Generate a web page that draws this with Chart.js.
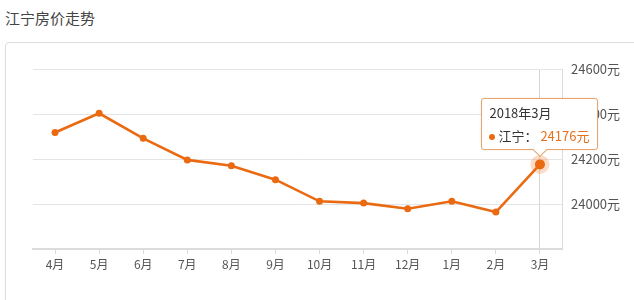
<!DOCTYPE html>
<html>
<head>
<meta charset="utf-8">
<script src="https://cdn.jsdelivr.net/npm/chart.js@4/dist/chart.umd.min.js"></script>
<style>
  body { margin: 0; width: 634px; height: 300px; background: #fff; overflow: hidden; position: relative;
         font-family: "Noto Sans CJK SC", "Noto Sans", sans-serif; }
  .title { position: absolute; left: 5px; top: 7px; font-size: 15px; color: #444; }
  .panel { position: absolute; left: 5px; top: 42px; width: 640px; height: 280px;
           border: 1px solid #ddd; border-radius: 4px; }
  #wrap { position: absolute; left: 0; top: 42px; width: 634px; height: 258px; }
  #tip { position: absolute; display: none; background: #fff; border: 1px solid #e8a36a;
         border-radius: 3px; padding: 5px 8px 3px 7px; font-size: 13px; color: #333; white-space: nowrap;
         box-shadow: 0 0 3px rgba(0,0,0,0.08); }
  #tip .t { line-height: 18px; }
  #tip .b { line-height: 20px; margin-top: 4px; }
  #tip .dot { display: inline-block; width: 6px; height: 6px; border-radius: 3px; background: #ea6a12;
              vertical-align: middle; margin: -2px 3px 0 0; }
  #tip .v { color: #e8701c; }
  #tip:after { content: ""; position: absolute; left: 50%; bottom: -6px; margin-left: -5px; width: 9px; height: 9px;
               background: #fff; border-right: 1px solid #e8a36a; border-bottom: 1px solid #e8a36a;
               transform: rotate(45deg); }
</style>
</head>
<body>
<div class="title">江宁房价走势</div>
<div class="panel"></div>
<div id="wrap"><canvas id="c"></canvas></div>
<div id="tip"></div>
<script>
var seriesName = "江宁";
var months = ["4月", "5月", "6月", "7月", "8月", "9月", "10月", "11月", "12月", "1月", "2月", "3月"];
var years = ["2017", "2017", "2017", "2017", "2017", "2017", "2017", "2017", "2017", "2018", "2018", "2018"];
var prices = [24318, 24403, 24292, 24196, 24170, 24108, 24012, 24004, 23979, 24012, 23964, 24176];
var yTicks = [23800, 24000, 24200, 24400, 24600];
var activeIndex = 11;

var orange = "#ea6a12";

var halo = {
    id: "halo",
    beforeDatasetsDraw: function (chart) {
        var act = chart.getActiveElements();
        if (!act.length) return;
        var el = act[0].element, ctx = chart.ctx;
        ctx.save();
        ctx.fillStyle = "rgba(244,140,70,0.3)";
        ctx.beginPath();
        ctx.arc(el.x, el.y, 9.5, 0, Math.PI * 2);
        ctx.fill();
        ctx.restore();
    }
};

function externalTip(context) {
    var tip = document.getElementById("tip");
    var model = context.tooltip;
    if (model.opacity === 0) { tip.style.display = "none"; return; }
    var i = model.dataPoints[0].dataIndex;
    tip.innerHTML = '<div class="t">' + years[i] + "年" + months[i] + '</div>' +
        '<div class="b"><span class="dot"></span>' + seriesName + '：&nbsp;<span class="v">' + prices[i] + '元</span></div>';
    tip.style.display = "block";
    var w = tip.offsetWidth, h = tip.offsetHeight;
    var canvasTop = 42;
    tip.style.left = (model.caretX - w / 2) + "px";
    tip.style.top = (canvasTop + model.caretY - 14 - h) + "px";
}

var chart = new Chart(document.getElementById("c").getContext("2d"), {
    type: "line",
    data: {
        labels: months,
        datasets: [{
            label: seriesName,
            data: prices,
            borderColor: orange,
            backgroundColor: orange,
            borderWidth: 2.6,
            pointRadius: 3.5,
            pointBackgroundColor: orange,
            pointBorderWidth: 0,
            pointHoverRadius: 5,
            pointHoverBorderWidth: 0,
            pointHoverBackgroundColor: orange,
            tension: 0
        }]
    },
    plugins: [halo],
    options: {
        responsive: true,
        maintainAspectRatio: false,
        animation: false,
        events: [],
        layout: { padding: { left: 33, top: 27, right: 0, bottom: 0 } },
        plugins: {
            legend: { display: false },
            tooltip: { enabled: false, external: externalTip, mode: "index", intersect: false }
        },
        scales: {
            x: {
                offset: true,
                afterFit: function (s) { s.height = 51; },
                grid: {
                    offset: false,
                    drawOnChartArea: true,
                    color: function (c) { return c.index === activeIndex ? "#d6d6d6" : "rgba(0,0,0,0)"; },
                    tickColor: "#d8d8d8",
                    tickLength: 5
                },
                border: { color: "#dcdcdc", width: 2 },
                ticks: { color: "#555", padding: 3, font: { size: 12, family: "'Noto Sans CJK SC'" } }
            },
            y: {
                position: "right",
                min: yTicks[0],
                max: yTicks[yTicks.length - 1],
                afterFit: function (s) { s.width = 72; },
                afterBuildTicks: function (s) { s.ticks = yTicks.map(function (v) { return { value: v }; }); },
                grid: { color: "#e4e4e4", drawTicks: false },
                border: { color: "#dcdcdc", width: 1 },
                ticks: {
                    color: "#555",
                    padding: 9,
                    font: { size: 13, family: "'Noto Sans CJK SC'" },
                    callback: function (v) { return v === yTicks[0] ? "" : v + "元"; }
                }
            }
        }
    }
});

var act = [{ datasetIndex: 0, index: activeIndex }];
chart.setActiveElements(act);
chart.tooltip.setActiveElements(act, { x: 0, y: 0 });
chart.update();
</script>
</body>
</html>
